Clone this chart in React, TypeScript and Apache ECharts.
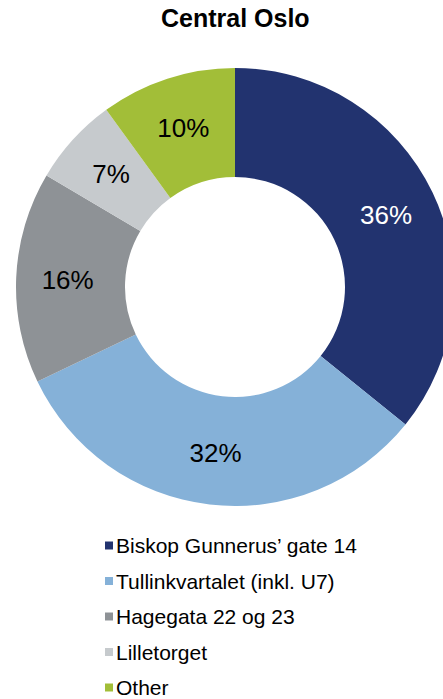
import React, { useEffect, useRef } from "react";
import * as echarts from "echarts";

const categories = [
  "Biskop Gunnerus’ gate 14",
  "Tullinkvartalet (inkl. U7)",
  "Hagegata 22 og 23",
  "Lilletorget",
  "Other",
];
const shares = [35.8, 32.1, 15.6, 6.5, 10.0];
const colors = ["#22336F", "#85B1D8", "#8E9296", "#C6CACD", "#A2BE38"];
const labelColors = ["#FFFFFF", "#000000", "#000000", "#000000", "#000000"];

const FONT = "'Liberation Sans', Arial, Helvetica, sans-serif";

export default function App() {
  const ref = useRef<HTMLDivElement>(null);
  useEffect(() => {
    document.body.style.margin = "0";
    if (!ref.current) return;
    const chart = echarts.init(ref.current, undefined, { renderer: "svg" });
    chart.setOption({
      animation: false,
      title: {
        text: "Central Oslo",
        left: 161,
        top: 5,
        padding: 0,
        textStyle: { fontFamily: FONT, fontSize: 25, fontWeight: "bold", color: "#000" },
      },
      legend: {
        orient: "vertical",
        left: 105,
        top: 535,
        itemWidth: 8,
        itemHeight: 8,
        itemGap: 14.5,
        icon: "rect",
        padding: 0,
        textStyle: { fontFamily: FONT, fontSize: 21, color: "#000", lineHeight: 21, padding: [0, 0, 0, -2] },
        data: categories,
      },
      series: [
        {
          type: "pie",
          center: [235, 287],
          radius: [110, 219],
          startAngle: 90,
          clockwise: true,
          avoidLabelOverlap: false,
          label: {
            show: true,
            position: "inside",
            fontFamily: FONT,
            fontSize: 26,
            formatter: (p: any) => `${Math.round(p.value)}%`,
          },
          labelLine: { show: false },
          emphasis: { disabled: true },
          itemStyle: { borderWidth: 0 },
          data: categories.map((name, i) => ({
            name,
            value: shares[i],
            itemStyle: { color: colors[i] },
            label: { color: labelColors[i] },
          })),
        },
      ],
    });
    return () => chart.dispose();
  }, []);
  return <div ref={ref} style={{ width: 443, height: 699 }} />;
}
